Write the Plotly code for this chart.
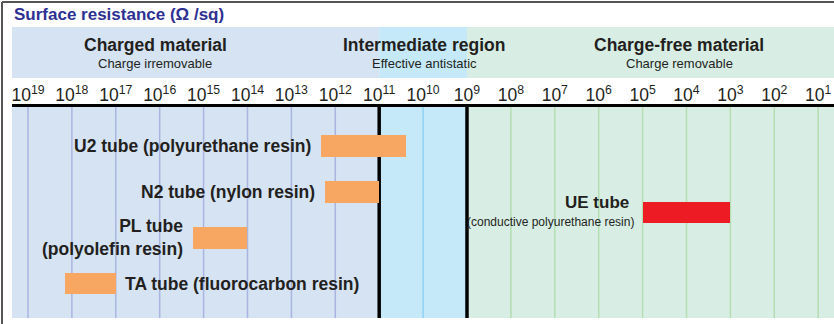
import math
import plotly.graph_objects as go

# ---------------- data ----------------
tubes = ["U2 tube (polyurethane resin)", "N2 tube (nylon resin)",
         "PL tube<br>(polyolefin resin)", "TA tube (fluorocarbon resin)"]
r_high = [2.1e12, 1.7e12, 1.7e15, 1.4e18]   # Ω/sq, high-resistance end
r_low = [2.5e10, 1.0e11, 1.0e14, 1.0e17]    # Ω/sq, low-resistance end
ue_title = "UE tube"
ue_sub = "(conductive polyurethane resin)"
ue_high = [1.0e5]
ue_low = [1.0e3]
tick_exponents = list(range(19, 0, -1))
tick_labels = [f"10<sup>{e}</sup>" for e in tick_exponents]
region_names = ["Charged material", "Intermediate region", "Charge-free material"]
region_subs = ["Charge irremovable", "Effective antistatic", "Charge removable"]
region_bounds = [1e11, 1e9]
title_text = "Surface resistance (Ω /sq)"

# ---------------- layout constants ----------------
W, H = 834, 324
ML, MR, MT, MB = 12, 0, 107, 6
PW, PH = W - ML - MR, H - MT - MB
XR = [19.364, 0.64]          # log10 range, reversed
YR = [3.75, -0.85]
UE_ROW = 1.45
BAR_W = 0.47

FONT = "Liberation Sans, Arial, Helvetica, sans-serif"
TXT = "#231f20"
C_CHG, C_INT, C_FREE = "#d5e3f3", "#c6e9f9", "#d8eee5"
G_CHG, G_INT, G_FREE = "#a9b5e0", "#8fd0f2", "#b4ddb0"
ORANGE, RED = "#f8a762", "#ed1c24"


def px_x(p):
    return (p - ML) / PW


def px_y(p):
    return (H - MB - p) / PH


region_x = [(10 ** XR[0], region_bounds[0]), (region_bounds[0], region_bounds[1]),
            (region_bounds[1], 10 ** XR[1])]
region_fill = [C_CHG, C_INT, C_FREE]

fig = go.Figure()
rows = list(range(len(tubes)))
fig.add_trace(go.Bar(
    orientation="h", y=rows, base=r_low,
    x=[h - l for h, l in zip(r_high, r_low)],
    width=BAR_W, marker=dict(color=ORANGE, line=dict(width=0)),
    hoverinfo="skip", showlegend=False))
fig.add_trace(go.Bar(
    orientation="h", y=[UE_ROW], base=ue_low,
    x=[h - l for h, l in zip(ue_high, ue_low)],
    width=BAR_W, marker=dict(color=RED, line=dict(width=0)),
    hoverinfo="skip", showlegend=False))

shapes = []
for (x0, x1), col in zip(region_x, region_fill):
    shapes.append(dict(type="rect", xref="x", yref="paper", x0=x0, x1=x1,
                       y0=0, y1=1, fillcolor=col, line=dict(width=0), layer="below"))
    shapes.append(dict(type="rect", xref="x", yref="paper", x0=x0, x1=x1,
                       y0=px_y(78), y1=px_y(27), fillcolor=col, line=dict(width=0),
                       layer="below"))
for e in tick_exponents:
    if e in (11, 9):
        continue
    col = G_CHG if e > 11 else (G_INT if e > 9 else G_FREE)
    shapes.append(dict(type="line", xref="x", yref="paper", x0=10 ** e, x1=10 ** e,
                       y0=0, y1=1, line=dict(color=col, width=1.5), layer="below"))
for b in region_bounds:
    shapes.append(dict(type="line", xref="x", yref="paper", x0=b, x1=b, y0=0, y1=1,
                       line=dict(color="black", width=3.5), layer="below"))
shapes.append(dict(type="line", xref="paper", yref="paper", x0=px_x(2), x1=px_x(2),
                   y0=px_y(2), y1=px_y(H), line=dict(color="#555555", width=2)))
shapes.append(dict(type="line", xref="paper", yref="paper", x0=px_x(2), x1=1,
                   y0=px_y(2), y1=px_y(2), line=dict(color="#555555", width=2)))

ann = []
ann.append(dict(text=f"<b>{title_text}</b>", xref="paper", yref="paper",
                x=px_x(12), y=px_y(15), xanchor="left", yanchor="middle",
                showarrow=False, font=dict(family=FONT, size=17, color="#2e3192")))
head_cx = [155, 424, 679]
for name, sub, cx in zip(region_names, region_subs, head_cx):
    ann.append(dict(text=f"<b>{name}</b>", xref="paper", yref="paper",
                    x=px_x(cx), y=px_y(45), xanchor="center", yanchor="middle",
                    showarrow=False, font=dict(family=FONT, size=17.5, color=TXT)))
    ann.append(dict(text=sub, xref="paper", yref="paper",
                    x=px_x(cx), y=px_y(63), xanchor="center", yanchor="middle",
                    showarrow=False, font=dict(family=FONT, size=13, color=TXT)))

label_side = ["left", "left", "left", "right"]
for name, r, hi, lo, side in zip(tubes, rows, r_high, r_low, label_side):
    if side == "left":
        ann.append(dict(text=f"<b>{name}</b>", xref="x", yref="y", x=math.log10(hi), y=r,
                        xanchor="right", yanchor="middle", xshift=-8, align="right",
                        showarrow=False, font=dict(family=FONT, size=17.5, color=TXT)))
    else:
        ann.append(dict(text=f"<b>{name}</b>", xref="x", yref="y", x=math.log10(lo), y=r,
                        xanchor="left", yanchor="middle", xshift=7, align="left",
                        showarrow=False, font=dict(family=FONT, size=17.5, color=TXT)))
ann.append(dict(text=f"<b>{ue_title}</b>", xref="x", yref="y", x=math.log10(ue_high[0]),
                y=UE_ROW, xanchor="right", yanchor="middle", xshift=-12, yshift=10,
                showarrow=False, font=dict(family=FONT, size=17, color=TXT)))
ann.append(dict(text=ue_sub, xref="x", yref="y", x=math.log10(ue_high[0]),
                y=UE_ROW, xanchor="right", yanchor="middle", xshift=-7, yshift=-9,
                showarrow=False, font=dict(family=FONT, size=12, color=TXT)))

fig.update_layout(
    width=W, height=H, margin=dict(l=ML, r=MR, t=MT, b=MB, pad=0, autoexpand=False),
    paper_bgcolor="white", plot_bgcolor="white",
    barmode="overlay", bargap=0, showlegend=False,
    shapes=shapes, annotations=ann,
    xaxis=dict(type="log", range=XR, side="top", tickmode="array", automargin=False,
               tickvals=[10 ** e for e in tick_exponents], ticktext=tick_labels,
               ticks="", ticklen=0, ticklabelstandoff=-4,
               tickfont=dict(family=FONT, size=17.5, color=TXT),
               showgrid=False, zeroline=False, showline=True, linecolor="black",
               linewidth=3, fixedrange=True),
    yaxis=dict(range=YR, showticklabels=False, showgrid=False, zeroline=False,
               showline=False, fixedrange=True, automargin=False),
)
fig.write_html(
    "out.html",
    config={"displayModeBar": False},
    post_script="document.body.style.margin='0px';document.body.style.overflow='hidden';",
)
